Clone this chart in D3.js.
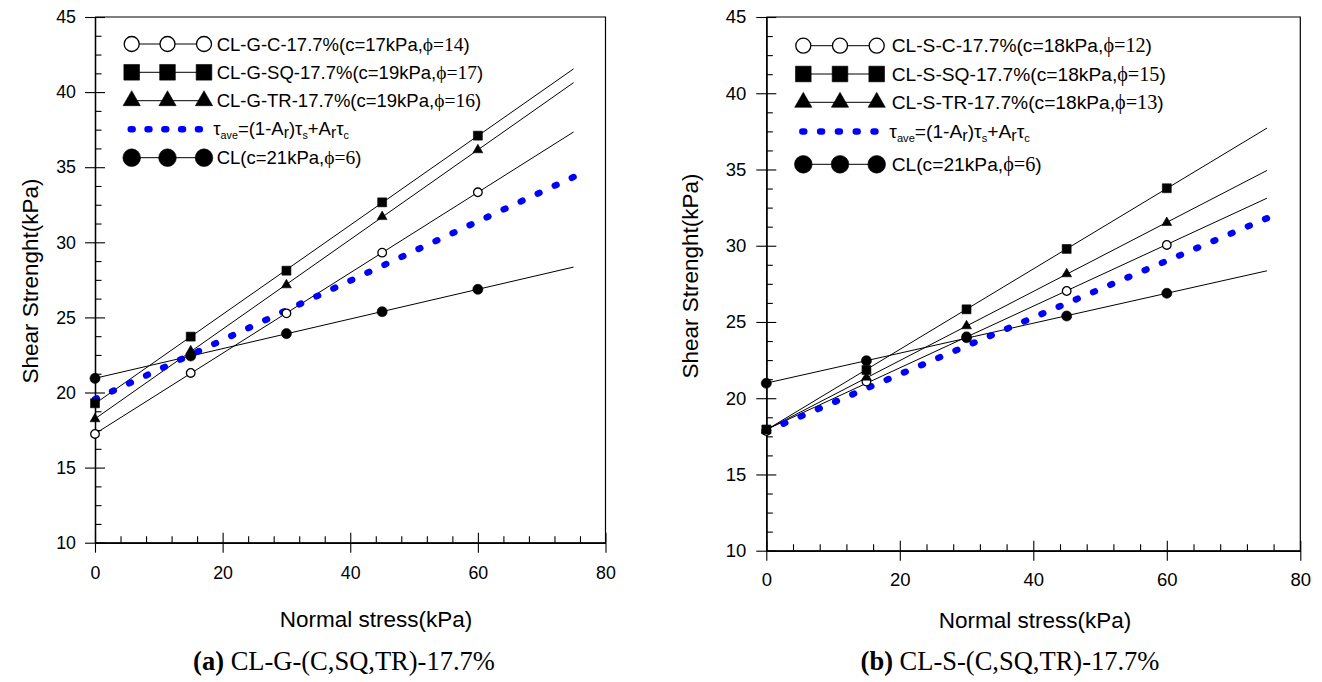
<!DOCTYPE html>
<html>
<head>
<meta charset="utf-8">
<script src="https://cdn.jsdelivr.net/npm/d3@7"></script>
<style>
  body { margin: 0; background: #fff; }
  svg { display: block; }
</style>
</head>
<body>
<svg id="chart" width="1322" height="682"></svg>
<script>
// ---- data ----------------------------------------------------------------
const normalStress = [0, 15, 30, 45, 60];          // kPa, test normal stresses
const fitExtent = [0, 75];                          // range of fitted envelopes
const xTickValues = [0, 20, 40, 60, 80];
const yTickValues = [10, 15, 20, 25, 30, 35, 40, 45];

// (a) gravel columns
const gCircle   = [17.24, 21.30, 25.27, 29.31, 33.33];
const gSquare   = [19.28, 23.72, 28.11, 32.66, 37.10];
const gTriangle = [18.24, 22.76, 27.16, 31.70, 36.15];
const gClay     = [20.94, 22.43, 23.92, 25.38, 26.87];
const gAverage  = [19.55, 34.35];                   // at fitExtent

// (b) sand columns
const sCircle   = [17.85, 21.09, 24.05, 27.03, 30.05];
const sSquare   = [17.95, 21.85, 25.83, 29.79, 33.77];
const sTriangle = [17.90, 21.37, 24.74, 28.15, 31.51];
const sClay     = [20.98, 22.46, 23.97, 25.39, 26.88];
const sAverage  = [17.85, 31.80];

const gLabels = [
  ["CL-G-C-17.7%(c=17kPa,", "\u03d5=14", ")"],
  ["CL-G-SQ-17.7%(c=19kPa,", "\u03d5=17", ")"],
  ["CL-G-TR-17.7%(c=19kPa,", "\u03d5=16", ")"],
  null,
  ["CL(c=21kPa,", "\u03d5=6", ")"]
];
const sLabels = [
  ["CL-S-C-17.7%(c=18kPa,", "\u03d5=12", ")"],
  ["CL-S-SQ-17.7%(c=18kPa,", "\u03d5=15", ")"],
  ["CL-S-TR-17.7%(c=18kPa,", "\u03d5=13", ")"],
  null,
  ["CL(c=21kPa,", "\u03d5=6", ")"]
];

const SANS = "Arial, 'Liberation Sans', sans-serif";
const SERIF = "'Times New Roman', 'Liberation Serif', serif";
const BLUE = "#0000ff";

const svg = d3.select("#chart");

// least-squares envelope through the measured points
function fit(ys) {
  const mx = d3.mean(normalStress), my = d3.mean(ys);
  const sxy = d3.sum(normalStress, (x, i) => (x - mx) * (ys[i] - my));
  const sxx = d3.sum(normalStress, x => (x - mx) * (x - mx));
  const b = sxy / sxx, a = my - b * mx;
  return fitExtent.map(x => [x, a + b * x]);
}

function symbolPath(kind, big) {
  const s = big ? 1.75 : 1;
  if (kind === "square") return d3.symbol(d3.symbolSquare, 80 * s * s)();
  if (kind === "triangle") return d3.symbol(d3.symbolTriangle, 42 * s * s)();
  if (kind === "open") return d3.symbol(d3.symbolCircle, 58 * s * s)();
  return d3.symbol(d3.symbolCircle, 80 * s * s)();
}

function drawMarker(g, kind, x, y, big) {
  g.append("path")
    .attr("d", symbolPath(kind, big))
    .attr("transform", `translate(${x},${y})`)
    .attr("fill", kind === "open" ? "#fff" : "#000")
    .attr("stroke", "#000")
    .attr("stroke-width", kind === "open" ? 1.3 : 0.6);
}

// short rounded dashes spaced so that the first and last sit on the line's ends
const DASH = 2;
function dotted(path, step) {
  const len = path.node().getTotalLength();
  const n = Math.max(1, Math.round((len - DASH) / step));
  const period = (len - DASH) / n;
  path.attr("stroke-dasharray", `${DASH} ${period - DASH}`);
}

function drawPanel(p) {
  const x = d3.scaleLinear().domain([0, 80]).range([p.left, p.right]);
  const y = d3.scaleLinear().domain([10, 45]).range([p.bottom, p.top]);
  const g = svg.append("g");

  // frame: top and right edges
  g.append("path")
    .attr("d", `M${p.left},${p.top}H${p.right}V${p.bottom}`)
    .attr("fill", "none").attr("stroke", "#000").attr("stroke-width", 1.2);

  const minorX = d3.range(0, 81, 4).filter(v => v % 20 !== 0);
  const minorY = d3.range(10, 45.01, 1.25).filter(v => v % 5 !== 0);

  const styleAxis = sel => {
    sel.selectAll("path.domain").attr("stroke-width", 1.2);
    sel.selectAll(".tick line").attr("stroke-width", 1.1);
  };

  // bottom axis: labelled outward ticks, inward half of major ticks, inward minor ticks
  g.append("g").attr("transform", `translate(0,${p.bottom})`)
    .call(d3.axisBottom(x).tickValues(xTickValues).tickSize(10).tickPadding(p.xPad).tickSizeOuter(0))
    .call(styleAxis)
    .call(a => a.selectAll("text").attr("font-family", SANS).attr("font-size", p.tickFont).attr("fill", "#000"));
  g.append("g").attr("transform", `translate(0,${p.bottom})`)
    .call(d3.axisBottom(x).tickValues(xTickValues).tickSize(-10).tickFormat("").tickSizeOuter(0))
    .call(styleAxis);
  g.append("g").attr("transform", `translate(0,${p.bottom})`)
    .call(d3.axisBottom(x).tickValues(minorX).tickSize(-6.5).tickFormat("").tickSizeOuter(0))
    .call(styleAxis);

  // left axis
  g.append("g").attr("transform", `translate(${p.left},0)`)
    .call(d3.axisLeft(y).tickValues(yTickValues).tickSize(10).tickPadding(p.yPad).tickSizeOuter(0))
    .call(styleAxis)
    .call(a => a.selectAll("text").attr("font-family", SANS).attr("font-size", p.tickFont).attr("fill", "#000"));
  g.append("g").attr("transform", `translate(${p.left},0)`)
    .call(d3.axisLeft(y).tickValues(yTickValues).tickSize(-10).tickFormat("").tickSizeOuter(0))
    .call(styleAxis);
  g.append("g").attr("transform", `translate(${p.left},0)`)
    .call(d3.axisLeft(y).tickValues(minorY).tickSize(-6.5).tickFormat("").tickSizeOuter(0))
    .call(styleAxis);

  // titles
  g.append("text")
    .attr("transform", `translate(${p.yTitle[0]},${p.yTitle[1]}) rotate(-90)`)
    .attr("text-anchor", "middle").attr("font-family", SANS).attr("font-size", p.titleFont)
    .text("Shear Strenght(kPa)");
  g.append("text")
    .attr("x", p.xTitle[0]).attr("y", p.xTitle[1])
    .attr("text-anchor", "middle").attr("font-family", SANS).attr("font-size", p.titleFont)
    .text("Normal stress(kPa)");
  const cap = g.append("text")
    .attr("x", p.caption[0]).attr("y", p.caption[1])
    .attr("text-anchor", "middle").attr("font-family", SERIF).attr("font-size", p.captionFont);
  cap.append("tspan").attr("font-weight", "bold").text(p.captionTag);
  cap.append("tspan").text(" " + p.captionText);

  // envelopes
  const line = d3.line().x(d => x(d[0])).y(d => y(d[1]));
  const series = [
    { kind: "open", ys: p.data[0] },
    { kind: "square", ys: p.data[1] },
    { kind: "triangle", ys: p.data[2] },
    { kind: "filled", ys: p.data[3] }
  ];
  series.forEach(s => {
    g.append("path").attr("d", line(fit(s.ys)))
      .attr("fill", "none").attr("stroke", "#000").attr("stroke-width", 1);
  });

  // averaged strength (dotted blue)
  const ave = g.append("path")
    .attr("d", line(fitExtent.map((v, i) => [v, p.average[i]])))
    .attr("fill", "none").attr("stroke", BLUE).attr("stroke-width", 6.4)
    .attr("stroke-linecap", "round");
  dotted(ave, 19);

  series.forEach(s => {
    s.ys.forEach((v, i) => drawMarker(g, s.kind, x(normalStress[i]), y(v), false));
  });

  // legend
  const L = p.legend;
  const kinds = ["open", "square", "triangle", "avg", "filled"];
  kinds.forEach((k, r) => {
    const ry = L.rows[r];
    if (k === "avg") {
      g.append("path")
        .attr("d", `M${L.sym[0] - DASH / 2},${ry}H${L.sym[0] + L.dotStep * 4 + DASH / 2}`)
        .attr("stroke", BLUE).attr("stroke-width", 6.4).attr("stroke-linecap", "round")
        .attr("stroke-dasharray", `${DASH} ${L.dotStep - DASH}`);
      const t = g.append("text").attr("x", L.tauX).attr("y", ry + 6)
        .attr("font-family", SANS).attr("font-size", L.font);
      const sub = L.font * 0.58, subR = L.font * 0.85;
      const parts = [
        ["\u03c4", 0, L.font], ["ave", 4, sub], ["=(1-A", -4, L.font], ["r", 3, subR],
        [")\u03c4", -3, L.font], ["s", 4, sub], ["+A", -4, L.font], ["r", 3, subR],
        ["\u03c4", -3, L.font], ["c", 4, sub]
      ];
      parts.forEach(([txt, dy, fs]) => t.append("tspan").attr("dy", dy).attr("font-size", fs).text(txt));
      return;
    }
    g.append("line")
      .attr("x1", L.sym[0]).attr("x2", L.sym[2]).attr("y1", ry).attr("y2", ry)
      .attr("stroke", "#000").attr("stroke-width", 1);
    L.sym.forEach(sx => drawMarker(g, k, sx, ry, true));
    const lab = p.labels[r];
    const t = g.append("text").attr("x", L.textX).attr("y", ry + 6.5)
      .attr("font-family", SANS).attr("font-size", L.font);
    t.append("tspan").text(lab[0]);
    t.append("tspan").attr("font-family", SERIF).attr("font-size", L.font + 1).text(lab[1]);
    t.append("tspan").text(lab[2]);
  });
}

drawPanel({
  left: 95, right: 605.5, top: 17, bottom: 542.7,
  xPad: 14, yPad: 9, tickFont: 17.8, titleFont: 22.5, captionFont: 26.5,
  yTitle: [38, 281], xTitle: [376, 627], caption: [344, 670],
  captionTag: "(a)", captionText: "CL-G-(C,SQ,TR)-17.7%",
  data: [gCircle, gSquare, gTriangle, gClay], average: gAverage,
  labels: gLabels,
  legend: { sym: [131.7, 167.5, 204], rows: [44, 72.3, 100.7, 129.3, 157.7],
            textX: 216.7, tauX: 213.3, dotStep: 16.8, font: 18.5 }
});

drawPanel({
  left: 766.3, right: 1300.3, top: 17, bottom: 550.7,
  xPad: 12.6, yPad: 10, tickFont: 18.5, titleFont: 22.5, captionFont: 26.5,
  yTitle: [698, 276], xTitle: [1035, 628], caption: [1010, 670],
  captionTag: "(b)", captionText: "CL-S-(C,SQ,TR)-17.7%",
  data: [sCircle, sSquare, sTriangle, sClay], average: sAverage,
  labels: sLabels,
  legend: { sym: [803.3, 840, 876.7], rows: [45.7, 74, 102.3, 131.5, 164.3],
            textX: 891.7, tauX: 889.3, dotStep: 17.8, font: 19.2 }
});
</script>
</body>
</html>
